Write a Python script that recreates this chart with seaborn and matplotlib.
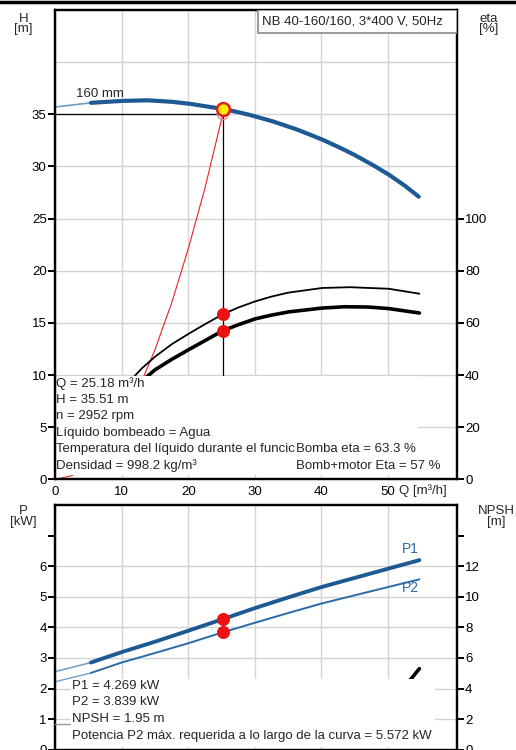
import matplotlib
matplotlib.use("Agg")
import matplotlib.pyplot as plt
import seaborn as sns
import pandas as pd
from matplotlib.patches import Rectangle

# ---------------- data ----------------
q_head = [0, 5.4, 10, 13.9, 17.5, 20.3, 25.18, 27.8, 29.3, 32.8, 36.5, 40.1,
          42.5, 44.8, 47.8, 50.1, 52.5, 54.6]
h_head = [35.7, 36.1, 36.28, 36.34, 36.2, 36.0, 35.51, 35.16, 34.93, 34.3,
          33.5, 32.58, 31.88, 31.16, 30.1, 29.22, 28.16, 27.1]

q_sys = [0, 2.5, 5, 7.5, 10, 12.5, 15, 17.5, 20, 22.5, 25.18]
h_sys = [0, 0.35, 1.38, 3.1, 5.52, 8.63, 12.42, 16.9, 22.1, 27.9, 35.0]

q_eta_pump = [11.4, 13, 15, 17.5, 20.1, 22.5, 25.18, 27.5, 30.1, 32.5, 35,
              40.1, 44.3, 50.1, 54.7]
eta_pump = [38.1, 42.5, 47.0, 51.8, 55.9, 59.5, 63.3, 65.9, 68.3, 70.1, 71.6,
            73.4, 73.7, 73.1, 71.2]

q_eta_tot = [13.4, 15, 17.5, 20.1, 22.5, 25.18, 27.5, 30.1, 32.5, 35, 40.1,
             43.4, 47, 50.1, 54.7]
eta_tot = [38.5, 42.0, 46.0, 49.8, 53.2, 57.0, 59.3, 61.6, 63.0, 64.2, 65.7,
           66.2, 66.1, 65.5, 63.8]

q_pow = [0, 5.4, 10, 15, 20, 25.18, 30, 35, 40, 45, 50, 54.7]
p1 = [2.55, 2.85, 3.19, 3.53, 3.89, 4.269, 4.63, 4.98, 5.32, 5.62, 5.92, 6.2]
p2 = [2.22, 2.51, 2.85, 3.16, 3.48, 3.839, 4.15, 4.47, 4.78, 5.05, 5.32, 5.572]

q_npsh = [0, 5.4, 10, 15, 20, 25.18, 30, 35, 40, 45, 50, 53.3, 54.7]
npsh = [1.7, 1.7, 1.72, 1.78, 1.85, 1.95, 2.1, 2.4, 2.8, 3.3, 4.0, 4.55, 5.3]

q_op = 25.18
h_op = 35.51
p1_op = 4.269
p2_op = 3.839
eta_pump_op = 63.3
eta_tot_op = 57.0

x_ticks = [0, 10, 20, 30, 40, 50]
h_ticks = [0, 5, 10, 15, 20, 25, 30, 35]
eta_ticks = [0, 20, 40, 60, 80, 100]
p_ticks = [0, 1, 2, 3, 4, 5, 6, 7]
p_labels = ["0", "1", "2", "3", "4", "5", "6", ""]
npsh_ticks = [0, 2, 4, 6, 8, 10, 12, 14]
npsh_labels = ["0", "2", "4", "6", "8", "10", "12", ""]

title = "NB 40-160/160, 3*400 V, 50Hz"
info_top = ["Q = 25.18 m³/h", "H = 35.51 m", "n = 2952 rpm",
            "Líquido bombeado = Agua",
            "Temperatura del líquido durante el funcic",
            "Densidad = 998.2 kg/m³"]
info_top_right = ["Bomba eta = 63.3 %", "Bomb+motor Eta = 57 %"]
info_bot = ["P1 = 4.269 kW", "P2 = 3.839 kW", "NPSH = 1.95 m",
            "Potencia P2 máx. requerida a lo largo de la curva = 5.572 kW"]

# ---------------- style ----------------
sns.set_style("white")
plt.rcParams["font.family"] = ["Liberation Sans", "DejaVu Sans"]
FS = 9.5
BLUE = "#1d5a94"
BLUE_L = "#6f9cc8"
GRID = "#d4d4d4"

fig = plt.figure(figsize=(5.16, 7.5), dpi=100)
ax1 = fig.add_axes([0.1066, 0.3608, 0.7785, 0.6259])
tw1 = ax1.twinx()
ax2 = fig.add_axes([0.1066, 0.0005, 0.7785, 0.326])
tw2 = ax2.twinx()

XMAX = 60.3

def style_axes(ax, tw):
    for a in (ax, tw):
        for s in a.spines.values():
            s.set_linewidth(1.6)
            s.set_color("black")
    ax.tick_params(axis="both", direction="out", length=5, width=1.4,
                   labelsize=FS, pad=1, colors="black")
    tw.tick_params(axis="y", direction="out", length=5, width=1.4,
                   labelsize=FS, pad=1, colors="black")
    ax.set_xlabel("")
    ax.set_ylabel("")
    tw.set_ylabel("")

# ---------------- top panel ----------------
df_head = pd.DataFrame({"Q": q_head, "H": h_head})
thin = df_head[df_head.Q <= 5.4]
thick = df_head[df_head.Q >= 5.4]
sns.lineplot(data=thin, x="Q", y="H", ax=ax1, color=BLUE_L, lw=1.2, zorder=4)
sns.lineplot(data=thick, x="Q", y="H", ax=ax1, color=BLUE, lw=3.0, zorder=4)
sns.lineplot(x=q_sys, y=h_sys, ax=ax1, color="#e8202a", lw=0.8, zorder=3)

ax1.plot([0, q_op], [h_sys[-1], h_sys[-1]], color="black", lw=0.9, zorder=3)
ax1.plot([q_op, q_op], [9.9, h_sys[-1]], color="black", lw=0.9, zorder=3)
ax1.scatter([q_op], [h_sys[-1]], s=60, facecolors="none", edgecolors="#f08a8a",
            linewidths=1.0, zorder=5)
ax1.scatter([q_op], [h_op], s=85, color="#ffee00", edgecolors="#e02020",
            linewidths=1.8, zorder=6)

ax1.set_xlim(0, XMAX)
ax1.set_ylim(0, 45)
ax1.set_xticks(x_ticks)
ax1.set_yticks(h_ticks)
ax1.set_axisbelow(True)
ax1.grid(True, color=GRID, lw=1.0)
ax1.axhline(40, color=GRID, lw=1.0, zorder=0)

sns.lineplot(x=q_eta_pump, y=eta_pump, ax=tw1, color="black", lw=1.3, zorder=3)
sns.lineplot(x=q_eta_tot, y=eta_tot, ax=tw1, color="black", lw=2.6, zorder=3)
tw1.scatter([q_op, q_op], [eta_pump_op, eta_tot_op], s=70, color="#ee1111",
            zorder=5)
tw1.set_ylim(0, 180)
tw1.set_yticks(eta_ticks)
style_axes(ax1, tw1)
ax1.tick_params(axis="x", pad=0)

ax1.text(3.1, 36.9, "160 mm", fontsize=FS, ha="left", va="center", zorder=7)

# title box (in eta coordinates on the upper twin)
tw1.add_patch(Rectangle((30.4, 171.3), XMAX - 30.4, 8.7, facecolor="white",
                        edgecolor="#8a8a8a", lw=1.2, zorder=8))
tw1.text(31.1, 175.6, title, fontsize=FS, ha="left", va="center", zorder=9)

# info box
tw1.add_patch(Rectangle((0.3, 1.6), 54.2, 38.0, facecolor="white",
                        edgecolor="none", zorder=8))
ys = [9.2, 7.6, 6.07, 4.46, 2.87, 1.28]
for txt, y in zip(info_top, ys):
    tw1.text(0.15, y * 4, txt, fontsize=FS, ha="left", va="center", zorder=9)
for txt, y in zip(info_top_right, ys[4:]):
    tw1.text(36.2, y * 4, txt, fontsize=FS, ha="left", va="center", zorder=10,
             bbox=dict(facecolor="white", edgecolor="none", pad=0.3))

ax1.text(51.6, -1.05, "Q [m³/h]", fontsize=FS, ha="left", va="center",
         clip_on=False)

fig.text(0.045, 0.983, "H\n[m]", fontsize=FS, ha="center", va="top",
         linespacing=0.85)
fig.text(0.948, 0.983, "eta\n[%]", fontsize=FS, ha="center", va="top",
         linespacing=0.85)

# ---------------- bottom panel ----------------
df_p = pd.DataFrame({"Q": q_pow, "P1": p1, "P2": p2})
sns.lineplot(data=df_p[df_p.Q <= 5.4], x="Q", y="P1", ax=ax2, color=BLUE_L,
             lw=1.1, zorder=3)
sns.lineplot(data=df_p[df_p.Q >= 5.4], x="Q", y="P1", ax=ax2, color=BLUE,
             lw=2.8, zorder=3)
sns.lineplot(data=df_p[df_p.Q <= 5.4], x="Q", y="P2", ax=ax2, color=BLUE_L,
             lw=1.0, zorder=3)
sns.lineplot(data=df_p[df_p.Q >= 5.4], x="Q", y="P2", ax=ax2, color="#2a6aa6",
             lw=1.4, zorder=3)
ax2.scatter([q_op, q_op], [p1_op, p2_op], s=70, color="#ee1111", zorder=5)
ax2.text(53.4, 6.57, "P1", fontsize=FS + 0.5, color="#2a6aa6", ha="center",
         va="center")
ax2.text(53.4, 5.3, "P2", fontsize=FS + 0.5, color="#2a6aa6", ha="center",
         va="center")

ax2.set_xlim(0, XMAX)
ax2.set_ylim(0, 8)
ax2.set_xticks(x_ticks)
ax2.set_yticks(p_ticks)
ax2.set_yticklabels(p_labels)
ax2.set_axisbelow(True)
ax2.grid(True, color=GRID, lw=1.0)
ax2.yaxis.grid(False)
for v in [1, 2, 3, 4, 5, 6]:
    ax2.axhline(v, color=GRID, lw=1.0, zorder=0)

df_n = pd.DataFrame({"Q": q_npsh, "N": npsh})
sns.lineplot(data=df_n[df_n.Q <= 5.4], x="Q", y="N", ax=tw2, color="#9a9a9a",
             lw=1.0, zorder=3)
sns.lineplot(data=df_n[df_n.Q >= 5.4], x="Q", y="N", ax=tw2, color="black",
             lw=2.6, zorder=3)
tw2.set_ylim(0, 16)
tw2.set_yticks(npsh_ticks)
tw2.set_yticklabels(npsh_labels)
style_axes(ax2, tw2)
ax2.tick_params(axis="x", length=0, labelbottom=False)

tw2.add_patch(Rectangle((2.4, 0.2), 54.6, 4.45, facecolor="white",
                        edgecolor="none", zorder=8))
ys2 = [2.08, 1.55, 1.0, 0.45]
for txt, y in zip(info_bot, ys2):
    tw2.text(2.5, y * 2, txt, fontsize=FS, ha="left", va="center", zorder=9)

fig.text(0.045, 0.326, "P\n[kW]", fontsize=FS, ha="center", va="top",
         linespacing=0.85)
fig.text(0.962, 0.326, "NPSH\n[m]", fontsize=FS, ha="center", va="top",
         linespacing=0.85)

# top border line of the figure
fig.add_artist(plt.Line2D([0, 1], [0.998, 0.998], color="black", lw=2.5,
                          transform=fig.transFigure))

fig.savefig("out.png", dpi=100)
